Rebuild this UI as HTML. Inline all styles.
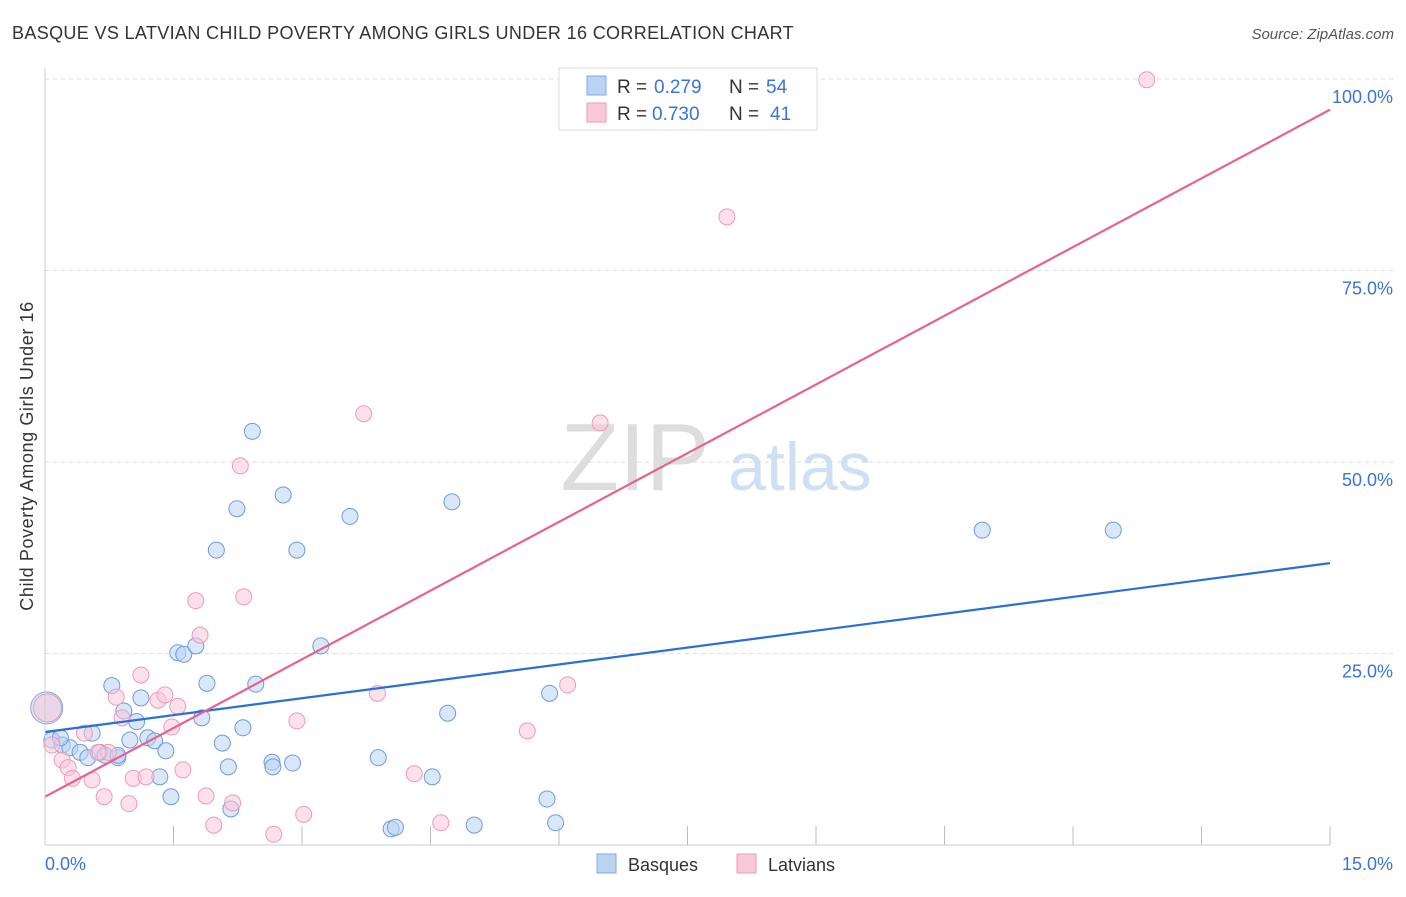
<!DOCTYPE html>
<html><head><meta charset="utf-8"><style>
body{margin:0;background:#fff;font-family:"Liberation Sans",sans-serif;}
svg text{font-family:"Liberation Sans",sans-serif;}
</style></head><body>
<svg id="chart" width="1406" height="892" viewBox="0 0 1406 892">
<text x="12" y="39" font-size="18" fill="#333" letter-spacing="0.35">BASQUE VS LATVIAN CHILD POVERTY AMONG GIRLS UNDER 16 CORRELATION CHART</text>
<text x="1394" y="39" font-size="15" fill="#555" font-style="italic" text-anchor="end">Source: ZipAtlas.com</text>
<text x="33" y="456" font-size="18" fill="#333" letter-spacing="0.6" text-anchor="middle" transform="rotate(-90 33 456)">Child Poverty Among Girls Under 16</text>
<g id="grid"></g><g id="ticks"></g>
<text x="635" y="490" font-size="96" fill="#ddd" font-family="Liberation Serif" text-anchor="middle">ZIP</text>
<text x="800" y="490" font-size="68" fill="#cfe0f5" text-anchor="middle">atlas</text>
<g id="pts"></g><g id="lines"></g>
<line x1="45" y1="68" x2="45" y2="845" stroke="#ccc"/>
<line x1="45" y1="845" x2="1330" y2="845" stroke="#ccc"/>
<text x="45" y="870" font-size="18" fill="#3a74d6">0.0%</text>
<text x="1393" y="870" font-size="18" fill="#3a74d6" text-anchor="end">15.0%</text>
<g>
<rect x="559" y="68" width="258" height="62" fill="#fff" stroke="#ddd"/>
<rect x="587" y="76" width="19" height="19" fill="#b9d3f3" stroke="#7ea9e6"/>
<rect x="587" y="103" width="19" height="19" fill="#f9c9d8" stroke="#ee9ab4"/>
<text x="617" y="93" font-size="19" fill="#333">R =</text>
<text x="654" y="93" font-size="19" fill="#3a74d6">0.279</text>
<text x="729" y="93" font-size="19" fill="#333">N =</text>
<text x="766" y="93" font-size="19" fill="#3a74d6">54</text>
<text x="617" y="120" font-size="19" fill="#333">R =</text>
<text x="652" y="120" font-size="19" fill="#3a74d6">0.730</text>
<text x="729" y="120" font-size="19" fill="#333">N =</text>
<text x="770" y="120" font-size="19" fill="#3a74d6">41</text>
</g>
<g>
<rect x="597" y="854" width="19" height="19" fill="#b9d3f3" stroke="#7ea9e6"/>
<text x="628" y="871" font-size="18" fill="#333">Basques</text>
<rect x="737" y="854" width="19" height="19" fill="#f9c9d8" stroke="#ee9ab4"/>
<text x="768" y="871" font-size="18" fill="#333">Latvians</text>
</g>
</svg>
<script>
const yTicks=[25,50,75,100];
const yTickLabels=["25.0%","50.0%","75.0%","100.0%"];
const xTicks=[0,1.5,3,4.5,6,7.5,9,10.5,12,13.5,15];
const basqueX=[0.08,0.20,0.29,0.41,0.55,0.50,0.64,0.78,0.85,0.92,0.99,1.07,1.12,1.20,1.28,1.34,1.41,1.47,1.55,1.62,1.76,1.83,1.89,2.00,2.07,2.14,2.17,2.24,2.31,2.42,2.46,2.65,2.66,2.78,2.89,2.94,3.22,3.56,3.89,4.04,4.09,4.52,4.70,4.75,5.01,5.86,5.89,5.96,10.94,12.47,0.18,0.70,0.85];
const basqueY=[13.7,13.05,12.7,12.1,14.6,11.4,12.1,20.8,11.4,17.5,13.7,16.1,19.2,14.0,13.6,8.9,12.3,6.3,25.1,24.9,26.0,16.6,21.1,38.5,13.3,10.2,4.7,43.9,15.3,54.0,21.0,10.8,10.2,45.7,10.7,38.5,26.0,42.9,11.4,2.1,2.3,8.9,17.2,44.8,2.6,6.0,19.8,2.9,41.1,41.1,14.0,11.7,11.7];
const latvianX=[0.08,0.20,0.27,0.32,0.46,0.55,0.69,0.74,0.83,0.90,0.98,1.03,1.12,1.18,1.32,1.40,1.48,1.55,1.61,1.76,1.81,1.88,1.97,2.19,2.28,2.32,2.67,2.94,3.02,3.72,3.88,4.31,4.62,5.63,6.10,6.48,7.96,12.86,0.62];
const latvianY=[13.05,11.1,10.1,8.7,14.6,8.5,6.3,12.1,19.3,16.6,5.4,8.7,22.2,8.9,18.9,19.6,15.4,18.1,9.8,31.9,27.4,6.4,2.6,5.5,49.5,32.4,1.4,16.2,4.0,56.3,19.8,9.3,2.9,14.9,20.9,55.1,82.0,99.9,12.1];
const basqueLine=[14.75,36.8];
const latvianLine=[6.3,96.0];
const NS="http://www.w3.org/2000/svg";
const X=v=>45+v*85.67, Y=v=>845-v*7.66;
function mk(t,a,p){const e=document.createElementNS(NS,t);for(const k in a)e.setAttribute(k,a[k]);p.appendChild(e);return e;}
const grid=document.getElementById('grid'),ticks=document.getElementById('ticks'),pts=document.getElementById('pts'),lines=document.getElementById('lines');
yTicks.forEach((v,i)=>{
 const l=mk('line',{x1:45,x2:1393,y1:Y(v),y2:Y(v),stroke:'#ddd','stroke-dasharray':'4 4'},grid);
 
 
 const t=mk('text',{x:1393,y:Y(v)+24,'font-size':18,fill:'#3a74d6','text-anchor':'end'},grid);
 t.textContent=yTickLabels[i];
 
 
});
xTicks.forEach(v=>{
 const l=mk('line',{x1:X(v),x2:X(v),y1:826,y2:845,stroke:'#bbb'},ticks);
 
 
});
function dot(x,y,r,f,s,name){
 const c=mk('circle',{cx:X(x),cy:Y(y),r:r,fill:f,'fill-opacity':0.55,stroke:s,'stroke-width':1},pts);
 
 
}
dot(0.02,17.9,16,'#b9d3f3','#7ea9e6','basque-point-large');
dot(0.03,17.9,14,'#f9c9d8','#ee9ab4','latvian-point-large');
basqueX.forEach((x,i)=>dot(x,basqueY[i],8,'#b9d3f3','#6d9be0','basque-point'));
latvianX.forEach((x,i)=>dot(x,latvianY[i],8,'#f9c9d8','#ee9ab4','latvian-point'));
const bl=mk('line',{x1:X(0),y1:Y(basqueLine[0]),x2:X(15),y2:Y(basqueLine[1]),stroke:'#2a6fd8','stroke-width':2.2},lines);


const ll=mk('line',{x1:X(0),y1:Y(latvianLine[0]),x2:X(15),y2:Y(latvianLine[1]),stroke:'#e8628f','stroke-width':2.2},lines);


</script>
</body></html>
